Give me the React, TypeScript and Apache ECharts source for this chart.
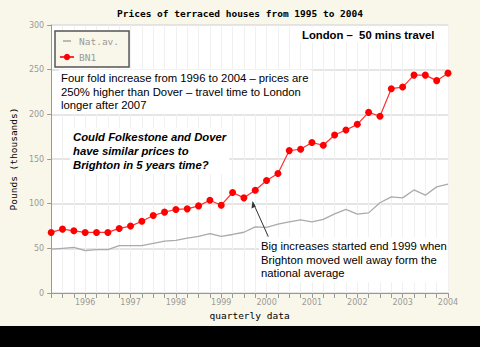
import React, { useEffect, useRef } from "react";
import * as echarts from "echarts";

const quarters = [
  "1995 Q2", "1995 Q3", "1995 Q4",
  "1996 Q1", "1996 Q2", "1996 Q3", "1996 Q4",
  "1997 Q1", "1997 Q2", "1997 Q3", "1997 Q4",
  "1998 Q1", "1998 Q2", "1998 Q3", "1998 Q4",
  "1999 Q1", "1999 Q2", "1999 Q3", "1999 Q4",
  "2000 Q1", "2000 Q2", "2000 Q3", "2000 Q4",
  "2001 Q1", "2001 Q2", "2001 Q3", "2001 Q4",
  "2002 Q1", "2002 Q2", "2002 Q3", "2002 Q4",
  "2003 Q1", "2003 Q2", "2003 Q3", "2003 Q4",
  "2004 Q1",
];

const natAv = [
  49, 50, 51, 47.5, 48.5, 48.5, 53, 53, 53, 55.5, 58, 59, 61.5, 63.5, 66.5, 63.5,
  65.5, 68, 74, 73.5, 77, 79.7, 81.9, 79.5, 82.5, 88.5, 93.5, 88.3, 89.7, 101,
  107.6, 106.5, 115.4, 109.5, 118.8, 122,
];

const bn1 = [
  67.8, 71.5, 69.6, 67.8, 67.8, 67.8, 72.3, 74.9, 80.4, 86.8, 90.5, 93.5, 94.2,
  97.5, 103.9, 98.3, 112.5, 106.5, 115.1, 125.9, 133.7, 159.4, 160.9, 168.4,
  165.4, 176.9, 182.5, 188.8, 202.2, 197.8, 228.7, 230.5, 243.9, 243.9, 237.7,
  246.1,
];

const seriesNames = ["Nat.av.", "BN1"];

const titleText = "Prices of terraced houses from 1995 to 2004";
const londonText = "London \u2013  50 mins travel";
const fourFoldText =
  "Four fold increase from 1996 to 2004 \u2013 prices are\n250% higher than Dover \u2013 travel time to London\nlonger after 2007";
const couldText =
  "Could Folkestone and Dover\nhave similar prices to\nBrighton in 5 years time?";
const bigText =
  "Big increases started end 1999 when\nBrighton moved well away form the\nnational average";

const MONO = "'DejaVu Sans Mono', monospace";
const SANS = "'Liberation Sans', Arial, sans-serif";

export default function App() {
  const ref = useRef<HTMLDivElement>(null);

  useEffect(() => {
    if (!ref.current) return;
    const chart = echarts.init(ref.current, null, { renderer: "svg" });
    chart.setOption({
      animation: false,
      backgroundColor: "#f9f7e9",
      title: {
        text: titleText,
        left: "center",
        top: 3,
        textStyle: {
          fontFamily: MONO,
          fontSize: 9.5,
          fontWeight: "bold",
          color: "#000",
        },
      },
      legend: {
        data: [
          {
            name: seriesNames[0],
            icon: "path://M0,0 M14,8 M3,3.2 L11,3.2 L11,4.8 L3,4.8 Z",
          },
          { name: seriesNames[1] },
        ],
        orient: "vertical",
        left: 55,
        top: 31,
        borderColor: "#555",
        borderWidth: 1.5,
        backgroundColor: "#f9f7e9",
        padding: [5, 10, 5, 4],
        itemWidth: 14,
        itemHeight: 8,
        itemGap: 6,
        textStyle: { fontFamily: MONO, fontSize: 9.5, color: "#999" },
      },
      grid: {
        left: 49,
        right: 32,
        top: 25,
        bottom: 54,
        show: true,
        backgroundColor: "#ffffff",
        borderWidth: 0,
      },
      xAxis: {
        type: "category",
        data: quarters,
        boundaryGap: false,
        name: "quarterly data",
        nameLocation: "middle",
        nameGap: 17,
        nameTextStyle: { fontFamily: MONO, fontSize: 9.5, color: "#000" },
        axisLine: { lineStyle: { color: "#999" } },
        axisTick: { interval: 0, length: 5, lineStyle: { color: "#999" } },
        axisLabel: {
          interval: 0,
          margin: 5,
          fontFamily: "'DejaVu Sans', sans-serif",
          fontSize: 8,
          color: "#999",
          formatter: (v: string) => (v.endsWith("Q1") ? v.slice(0, 4) : ""),
        },
        splitLine: {
          show: true,
          interval: 0,
          lineStyle: { color: "#f0f0f0", width: 1 },
        },
      },
      yAxis: {
        type: "value",
        min: 0,
        max: 300,
        interval: 50,
        name: "Pounds (thousands)",
        nameLocation: "middle",
        nameGap: 30,
        nameTextStyle: { fontFamily: MONO, fontSize: 9.5, color: "#000" },
        axisLine: { show: true, lineStyle: { color: "#999" } },
        axisTick: { show: true, length: 4, lineStyle: { color: "#999" } },
        axisLabel: {
          margin: 7,
          fontFamily: "'DejaVu Sans', sans-serif",
          fontSize: 8,
          color: "#999",
        },
        splitLine: { lineStyle: { color: "#dddddd", width: 1.5 } },
      },
      series: [
        {
          name: seriesNames[0],
          type: "line",
          data: natAv,
          symbol: "none",
          color: "#aaaaaa",
          lineStyle: { color: "#aaaaaa", width: 1.3 },
        },
        {
          name: seriesNames[1],
          type: "line",
          data: bn1,
          symbol: "circle",
          symbolSize: 7,
          color: "#ff0000",
          itemStyle: { color: "#ff0000" },
          lineStyle: { color: "#ff3030", width: 1.2 },
        },
      ],
      graphic: [
        {
          type: "rect",
          shape: { x: 0, y: 326, width: 480, height: 21 },
          style: { fill: "#000" },
        },
        {
          type: "text",
          x: 300,
          y: 35,
          z: 100,
          style: {
            text: londonText,
            font: `bold 11.3px ${SANS}`,
            fill: "#000",
            verticalAlign: "middle",
            backgroundColor: "#fff",
            padding: [2, 3, 2, 2],
          },
        },
        {
          type: "text",
          x: 59,
          y: 69.5,
          z: 100,
          style: {
            text: fourFoldText,
            font: `11.3px ${SANS}`,
            lineHeight: 13.4,
            fill: "#000",
            verticalAlign: "top",
            backgroundColor: "#fff",
            padding: [2, 3, 2, 2],
          },
        },
        {
          type: "text",
          x: 70,
          y: 127.7,
          z: 100,
          style: {
            text: couldText,
            font: `italic bold 11.3px ${SANS}`,
            lineHeight: 14.2,
            fill: "#000",
            verticalAlign: "top",
            backgroundColor: "#fff",
            padding: [2, 3, 2, 3],
          },
        },
        {
          type: "text",
          x: 259,
          y: 237.2,
          z: 100,
          style: {
            text: bigText,
            font: `11.3px ${SANS}`,
            lineHeight: 13.6,
            fill: "#000",
            verticalAlign: "top",
            backgroundColor: "#fff",
            padding: [2, 1, 2, 2],
          },
        },
        {
          type: "line",
          z: 101,
          shape: { x1: 268.3, y1: 236.7, x2: 253, y2: 202.5 },
          style: { stroke: "#333", lineWidth: 1 },
        },
        {
          type: "polygon",
          z: 101,
          shape: {
            points: [
              [252.5, 201],
              [251.5, 208.5],
              [255.7, 206.6],
            ],
          },
          style: { fill: "#333" },
        },
      ],
    });
    return () => chart.dispose();
  }, []);

  return (
    <div
      ref={ref}
      style={{ position: "absolute", left: 0, top: 0, width: 480, height: 347 }}
    />
  );
}
